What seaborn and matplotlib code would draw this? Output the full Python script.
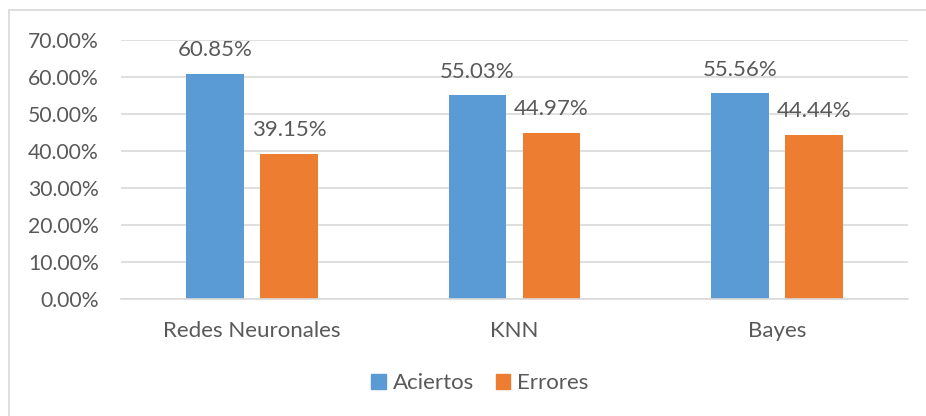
import matplotlib
matplotlib.use("Agg")
import matplotlib.pyplot as plt
from matplotlib.patches import Rectangle
from matplotlib.ticker import FuncFormatter, MultipleLocator
import pandas as pd
import seaborn as sns

categories = ["Redes Neuronales", "KNN", "Bayes"]
aciertos = [60.85, 55.03, 55.56]
errores = [39.15, 44.97, 44.44]
series_names = ["Aciertos", "Errores"]
colors = ["#5B9BD5", "#ED7D31"]

df = pd.DataFrame({
    "categoria": categories * 2,
    "serie": [series_names[0]] * 3 + [series_names[1]] * 3,
    "valor": aciertos + errores,
})

sns.set_theme(style="white")
plt.rcParams["font.family"] = ["Lato", "DejaVu Sans"]
text_color = "#595959"
grid_color = "#D9D9D9"
fs = 16

W, H = 926, 416
fig = plt.figure(figsize=(W / 100, H / 100), dpi=100)
ax = fig.add_axes([121 / W, 1 - 299 / H, (908 - 121) / W, (299 - 40) / H])

sns.barplot(data=df, x="categoria", y="valor", hue="serie", order=categories,
            hue_order=series_names, palette=colors, width=0.565, gap=0.22,
            saturation=1, ax=ax, legend=False, edgecolor="none")

for cont in ax.containers:
    ax.bar_label(cont, labels=[f"{v:.2f}%" for v in cont.datavalues],
                 padding=10, fontsize=fs, color=text_color)

ax.set_xlim(-0.5, 2.5)
ax.set_ylim(0, 70)
ax.yaxis.set_major_locator(MultipleLocator(10))
ax.yaxis.set_major_formatter(FuncFormatter(lambda v, p: f"{v:.2f}%"))
ax.grid(axis="y", color=grid_color, linewidth=1.2)
ax.set_axisbelow(True)
for s in ["top", "right", "left"]:
    ax.spines[s].set_visible(False)
ax.spines["bottom"].set_color(grid_color)
ax.spines["bottom"].set_linewidth(1.2)
ax.set_xlabel("")
ax.set_ylabel("")

ax.tick_params(axis="y", length=0, pad=16, labelsize=fs - 0.8, labelcolor=text_color)
ax.set_xticks([0, 1, 2])
ax.set_xticklabels(categories)
ax.tick_params(axis="x", length=0, pad=16, labelsize=fs, labelcolor=text_color)
ax.set_xticks([-0.5, 0.5, 1.5, 2.5], minor=True)
ax.tick_params(axis="x", which="minor", length=7, width=1.2, color=grid_color)

handles = [Rectangle((0, 0), 1, 1, color=c) for c in colors]
fig.legend(handles, series_names, loc="center", bbox_to_anchor=(480 / W, 1 - 383 / H),
           ncol=2, frameon=False, fontsize=fs, handlelength=0.65, handleheight=0.65,
           handletextpad=0.3, columnspacing=1.0, labelcolor=text_color)

fig.patches.append(Rectangle((9 / W, -0.1), 1.1, 1 - 10 / H + 0.1,
                             transform=fig.transFigure, fill=False,
                             edgecolor=grid_color, linewidth=1.2))

fig.savefig("out.png", dpi=100, facecolor="white")
